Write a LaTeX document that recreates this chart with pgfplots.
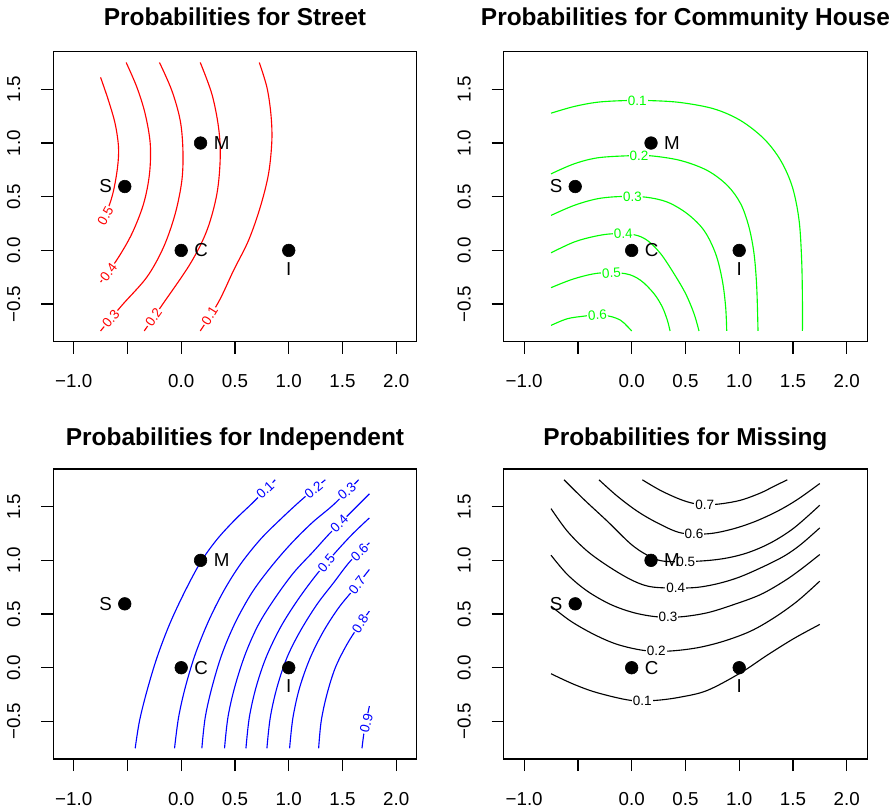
\documentclass[border=0pt]{standalone}
\usepackage{fontspec}
\setmainfont{Liberation Sans}
\usepackage{pgfplots}
\pgfplotsset{compat=1.18}
\newcommand\ptfont{\fontsize{12.5}{14}\selectfont}
\pgfplotsset{
 rpanel/.style={
  scale only axis, width=242.3pt, height=193.3pt,
  xmin=-1.19, xmax=2.19, ymin=-0.85, ymax=1.85,
  axis line style={line width=0.85pt},
  xtick={-1,-0.5,0,0.5,1,1.5,2},
  xticklabels={−1.0,,0.0,0.5,1.0,1.5,2.0},
  ytick={-0.5,0,0.5,1,1.5},
  yticklabels={−0.5,0.0,0.5,1.0,1.5},
  tick align=outside, major tick length=8pt,
  tick pos=left,
  tick style={line width=0.85pt, black},
  ticklabel style={font=\ptfont},
  xticklabel style={anchor=base, yshift=-22.7pt},
  yticklabel style={xshift=-14pt, rotate=90, anchor=base},
 },
 cl/.style={line width=0.75pt, smooth, tension=0.55},
 toptitle/.style={title style={font=\bfseries\fontsize{16.3}{19}\selectfont, at={(0.5,1)}, anchor=base, yshift=11.3pt}},
 bottitle/.style={title style={font=\bfseries\fontsize{16.3}{19}\selectfont, at={(0.5,1)}, anchor=base, yshift=10pt}},
}
\tikzset{
 clab/.style={font=\fontsize{9}{10}\selectfont, fill=white, inner sep=0.6pt},
 plab/.style={font=\ptfont, inner sep=0pt},
}
\newcommand\pts{%
 \addplot[only marks, mark=*, mark size=4.2pt, black] coordinates {(-0.525,0.595)(0.18,1.0)(0,0)(1,0)};
 \node[plab, xshift=-12.7pt] at (axis cs:-0.525,0.595) {S};
 \node[plab, xshift=14pt] at (axis cs:0.18,1.0) {M};
 \node[plab, xshift=13.3pt] at (axis cs:0,0) {C};
 \node[plab, yshift=-12.2pt] at (axis cs:1,0) {I};
}
\begin{document}
\begin{tikzpicture}
\useasboundingbox (0,0) rectangle (596pt,-540.67pt);
% ---------------- Street
\begin{axis}[rpanel, toptitle, at={(35.5pt,-227.8pt)}, anchor=south west, title={Probabilities for Street}]
\addplot[cl, red] coordinates {(-0.750,1.612)(-0.676,1.395)(-0.614,1.178)(-0.583,0.961)(-0.592,0.775)(-0.629,0.558)(-0.676,0.403)(-0.750,0.248)};
\addplot[cl, red] coordinates {(-0.512,1.75)(-0.412,1.519)(-0.335,1.271)(-0.288,0.992)(-0.295,0.713)(-0.350,0.434)(-0.459,0.155)(-0.598,-0.087)(-0.750,-0.295)};
\addplot[cl, red] coordinates {(-0.202,1.75)(-0.087,1.488)(-0.009,1.209)(0.016,0.930)(0.006,0.651)(-0.056,0.341)(-0.164,0.031)(-0.319,-0.248)(-0.552,-0.512)(-0.750,-0.750)};
\addplot[cl, red] coordinates {(0.177,1.75)(0.285,1.457)(0.347,1.147)(0.363,0.868)(0.332,0.527)(0.239,0.186)(0.084,-0.124)(-0.180,-0.512)(-0.344,-0.750)};
\addplot[cl, red] coordinates {(0.726,1.75)(0.797,1.519)(0.834,1.271)(0.843,1.023)(0.812,0.713)(0.735,0.403)(0.626,0.093)(0.487,-0.186)(0.347,-0.481)(0.177,-0.750)};
\node[clab, text=red, rotate=61] at (axis cs:-0.705,0.32) {0.5};
\node[clab, text=red, rotate=53] at (axis cs:-0.676,-0.202) {0.4};
\node[clab, text=red, rotate=50] at (axis cs:-0.654,-0.635) {0.3};
\node[clab, text=red, rotate=55] at (axis cs:-0.257,-0.625) {0.2};
\node[clab, text=red, rotate=58] at (axis cs:0.265,-0.61) {0.1};
\pts
\end{axis}
% ---------------- Community House
\begin{axis}[rpanel, toptitle, at={(335.8pt,-227.8pt)}, anchor=south west, title={Probabilities for Community House}]
\addplot[cl, green] coordinates {(-0.75,1.278)(-0.536,1.340)(-0.319,1.380)(-0.071,1.395)(0.177,1.395)(0.456,1.377)(0.766,1.318)(1.014,1.209)(1.231,1.039)(1.386,0.837)(1.495,0.589)(1.557,0.279)(1.581,-0.093)(1.588,-0.465)(1.588,-0.75)};
\addplot[cl, green] coordinates {(-0.75,0.713)(-0.536,0.806)(-0.319,0.862)(-0.040,0.881)(0.177,0.881)(0.456,0.837)(0.704,0.744)(0.890,0.605)(1.014,0.434)(1.091,0.217)(1.138,-0.031)(1.163,-0.341)(1.175,-0.75)};
\addplot[cl, green] coordinates {(-0.75,0.326)(-0.536,0.419)(-0.319,0.481)(-0.102,0.502)(0.130,0.496)(0.332,0.450)(0.518,0.341)(0.673,0.186)(0.781,-0.031)(0.843,-0.279)(0.874,-0.527)(0.884,-0.75)};
\addplot[cl, green] coordinates {(-0.75,-0.022)(-0.536,0.078)(-0.350,0.130)(-0.180,0.155)(0.022,0.146)(0.146,0.093)(0.270,-0.031)(0.394,-0.217)(0.502,-0.403)(0.580,-0.589)(0.626,-0.75)};
\addplot[cl, green] coordinates {(-0.75,-0.347)(-0.536,-0.264)(-0.304,-0.211)(-0.056,-0.217)(0.084,-0.279)(0.208,-0.403)(0.285,-0.527)(0.332,-0.651)(0.357,-0.75)};
\addplot[cl, green] coordinates {(-0.75,-0.698)(-0.598,-0.636)(-0.443,-0.612)(-0.319,-0.600)(-0.195,-0.615)(-0.102,-0.651)(-0.040,-0.707)(0.0,-0.75)};
\node[clab, text=green, rotate=0] at (axis cs:0.053,1.395) {0.1};
\node[clab, text=green, rotate=0] at (axis cs:0.068,0.881) {0.2};
\node[clab, text=green, rotate=1] at (axis cs:0.006,0.50) {0.3};
\node[clab, text=green, rotate=3] at (axis cs:-0.078,0.155) {0.4};
\node[clab, text=green, rotate=4] at (axis cs:-0.189,-0.211) {0.5};
\node[clab, text=green, rotate=4] at (axis cs:-0.319,-0.600) {0.6};
\pts
\end{axis}
% ---------------- Independent
\begin{axis}[rpanel, bottitle, at={(35.5pt,-506pt)}, anchor=south west, title={Probabilities for Independent}]
\addplot[cl, blue] coordinates {(-0.428,-0.75)(-0.388,-0.496)(-0.319,-0.217)(-0.226,0.093)(-0.109,0.403)(0.028,0.698)(0.177,0.977)(0.332,1.194)(0.502,1.380)(0.673,1.544)(0.874,1.75)};
\addplot[cl, blue] coordinates {(-0.062,-0.75)(-0.025,-0.465)(0.037,-0.186)(0.130,0.124)(0.254,0.434)(0.394,0.713)(0.549,0.961)(0.735,1.194)(0.921,1.380)(1.122,1.566)(1.340,1.75)};
\addplot[cl, blue] coordinates {(0.192,-0.75)(0.223,-0.465)(0.285,-0.186)(0.378,0.124)(0.502,0.419)(0.657,0.698)(0.828,0.930)(1.014,1.147)(1.216,1.349)(1.417,1.519)(1.650,1.75)};
\addplot[cl, blue] coordinates {(0.403,-0.75)(0.434,-0.465)(0.496,-0.186)(0.595,0.124)(0.719,0.403)(0.874,0.651)(1.045,0.884)(1.231,1.085)(1.386,1.256)(1.557,1.426)(1.75,1.619)};
\addplot[cl, blue] coordinates {(0.602,-0.75)(0.633,-0.465)(0.695,-0.186)(0.788,0.093)(0.921,0.372)(1.076,0.620)(1.247,0.853)(1.417,1.054)(1.588,1.240)(1.75,1.395)};
\addplot[cl, blue] coordinates {(0.797,-0.75)(0.828,-0.465)(0.890,-0.186)(0.983,0.093)(1.107,0.341)(1.262,0.589)(1.417,0.791)(1.572,0.992)(1.75,1.163)};
\addplot[cl, blue] coordinates {(1.008,-0.75)(1.039,-0.465)(1.101,-0.186)(1.200,0.093)(1.324,0.341)(1.464,0.558)(1.603,0.729)(1.75,0.915)};
\addplot[cl, blue] coordinates {(1.278,-0.75)(1.302,-0.496)(1.355,-0.248)(1.433,0.0)(1.541,0.217)(1.650,0.388)(1.75,0.527)};
\addplot[cl, blue] coordinates {(1.681,-0.75)(1.702,-0.589)(1.727,-0.465)(1.75,-0.357)};
\node[clab, text=blue, rotate=43] at (axis cs:0.781,1.655) {0.1};
\node[clab, text=blue, rotate=40] at (axis cs:1.231,1.658) {0.2};
\node[clab, text=blue, rotate=40] at (axis cs:1.541,1.642) {0.3};
\node[clab, text=blue, rotate=45] at (axis cs:1.47,1.339) {0.4};
\node[clab, text=blue, rotate=50] at (axis cs:1.349,0.974) {0.5};
\node[clab, text=blue, rotate=45] at (axis cs:1.659,1.076) {0.6};
\node[clab, text=blue, rotate=52] at (axis cs:1.636,0.771) {0.7};
\node[clab, text=blue, rotate=58] at (axis cs:1.665,0.410) {0.8};
\node[clab, text=blue, rotate=75] at (axis cs:1.722,-0.52) {0.9};
\pts
\end{axis}
% ---------------- Missing
\begin{axis}[rpanel, bottitle, at={(335.8pt,-506pt)}, anchor=south west, title={Probabilities for Missing}]
\addplot[cl, black] coordinates {(0.099,1.75)(0.270,1.650)(0.456,1.566)(0.595,1.526)(0.71,1.52)(0.828,1.526)(1.014,1.560)(1.200,1.628)(1.324,1.690)(1.448,1.75)};
\addplot[cl, black] coordinates {(-0.304,1.75)(-0.133,1.597)(0.053,1.457)(0.239,1.349)(0.456,1.256)(0.704,1.247)(0.921,1.287)(1.138,1.358)(1.355,1.457)(1.541,1.566)(1.749,1.715)};
\addplot[cl, black] coordinates {(-0.629,1.75)(-0.443,1.566)(-0.226,1.364)(-0.009,1.153)(0.146,1.048)(0.301,0.992)(0.611,0.992)(0.859,1.017)(1.076,1.070)(1.293,1.163)(1.510,1.302)(1.749,1.513)};
\addplot[cl, black] coordinates {(-0.75,1.482)(-0.598,1.271)(-0.412,1.085)(-0.195,0.930)(0.022,0.806)(0.208,0.750)(0.549,0.744)(0.766,0.775)(0.983,0.837)(1.200,0.930)(1.417,1.039)(1.572,1.147)(1.749,1.302)};
\addplot[cl, black] coordinates {(-0.75,1.048)(-0.598,0.868)(-0.412,0.713)(-0.195,0.589)(0.022,0.512)(0.239,0.474)(0.456,0.474)(0.704,0.512)(0.952,0.589)(1.200,0.682)(1.417,0.806)(1.572,0.915)(1.749,1.054)};
\addplot[cl, black] coordinates {(-0.75,0.574)(-0.567,0.434)(-0.350,0.310)(-0.133,0.217)(0.115,0.161)(0.347,0.155)(0.611,0.186)(0.859,0.248)(1.107,0.341)(1.324,0.465)(1.541,0.620)(1.749,0.806)};
\addplot[cl, black] coordinates {(-0.75,-0.056)(-0.536,-0.155)(-0.319,-0.233)(-0.009,-0.304)(0.223,-0.304)(0.456,-0.273)(0.704,-0.211)(1.014,-0.047)(1.262,0.118)(1.510,0.273)(1.749,0.403)};
\node[clab] at (axis cs:0.679,1.52) {0.7};
\node[clab] at (axis cs:0.580,1.245) {0.6};
\node[clab] at (axis cs:0.502,0.986) {0.5};
\node[clab] at (axis cs:0.409,0.742) {0.4};
\node[clab] at (axis cs:0.338,0.470) {0.3};
\node[clab] at (axis cs:0.229,0.155) {0.2};
\node[clab] at (axis cs:0.099,-0.304) {0.1};
\pts
\end{axis}
\end{tikzpicture}
\end{document}
